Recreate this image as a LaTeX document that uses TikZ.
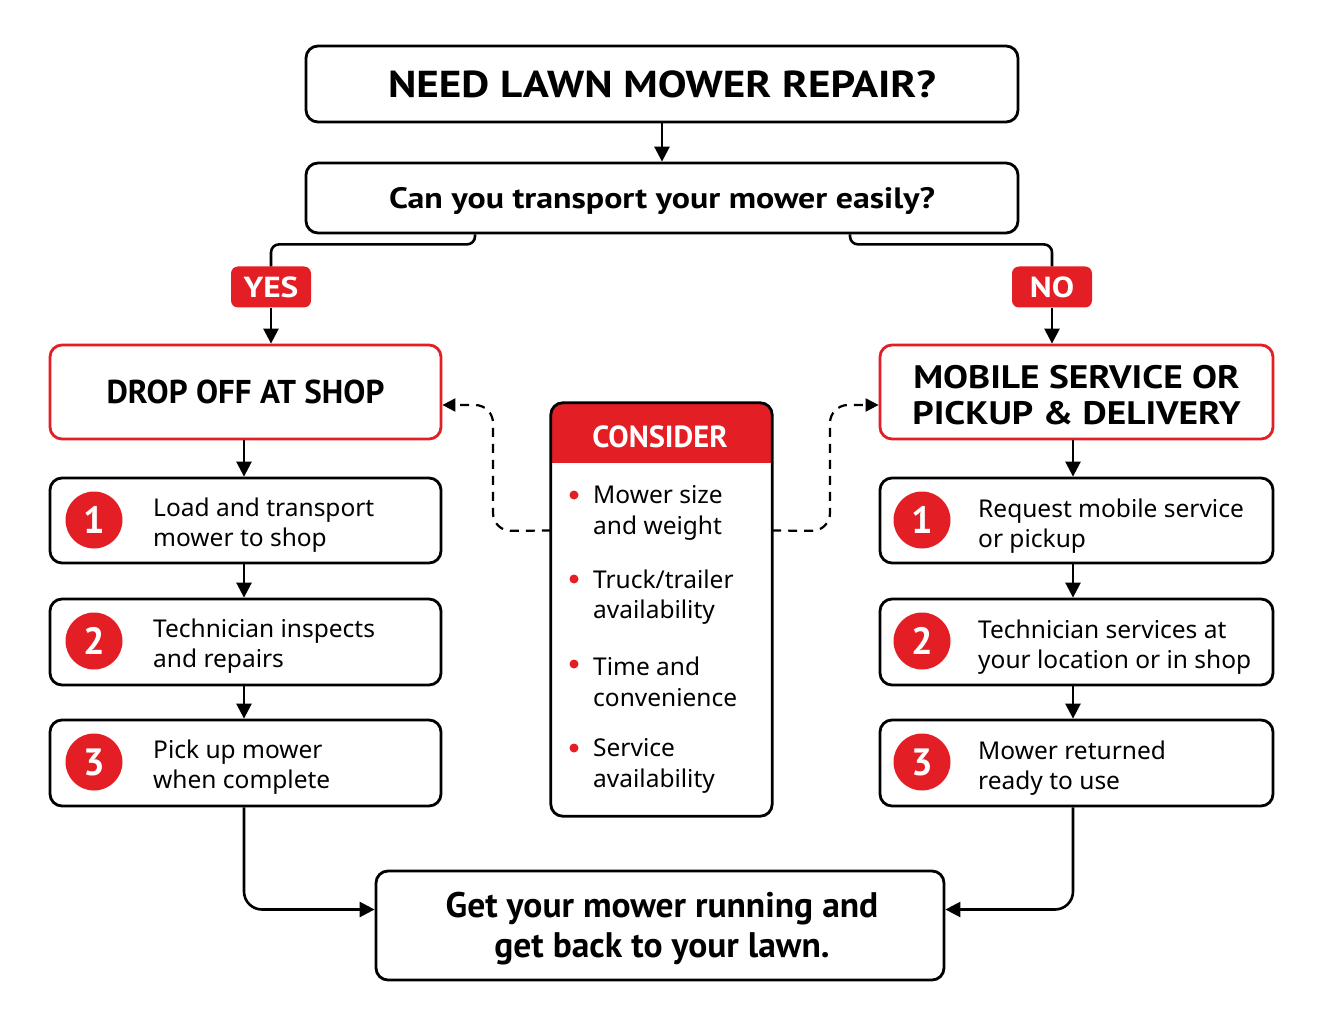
\documentclass[tikz,border=0pt]{standalone}
\usepackage{fontspec}
\setmainfont{Noto Sans}
\newfontfamily\headfont{PT Sans}
\newfontfamily\widefont{PT Sans}[FakeStretch=1.15]
\usetikzlibrary{positioning,arrows.meta}
\definecolor{mowerred}{RGB}{227,30,36}

\tikzset{
  box/.style={draw=black, line width=2.8pt, rounded corners=12pt, fill=white, inner sep=0pt},
  redbox/.style={draw=mowerred, line width=2.8pt, rounded corners=12pt, fill=white, inner sep=0pt},
  headtext/.style={font=\headfont\bfseries\fontsize{33}{35}\selectfont, align=center},
  badge/.style={fill=mowerred, rounded corners=7pt, text=white, inner sep=0pt,
    font=\widefont\bfseries\fontsize{29}{30}\selectfont, minimum width=80pt, minimum height=41pt},
  stepnum/.style={circle, fill=mowerred, text=white, minimum size=57pt, inner sep=0pt,
    font=\headfont\bfseries\fontsize{38}{38}\selectfont},
  steptext/.style={anchor=west, align=left, inner sep=0pt, font=\fontsize{24.5}{30.5}\selectfont},
  dot/.style={circle, fill=mowerred, minimum size=9pt, inner sep=0pt},
  conn/.style={line width=2.6pt, -{Triangle[length=15pt,width=15pt]}},
  link/.style={line width=2.6pt},
  dashconn/.style={line width=2.2pt, dash pattern=on 9pt off 7pt, rounded corners=18pt,
    -{Triangle[length=13pt,width=13pt]}}
}

\begin{document}
\begin{tikzpicture}[x=1pt, y=-1pt]
    \useasboundingbox[fill=white] (0,0) rectangle (1323,1024);

    % Question boxes
    \node[box, minimum width=712pt, minimum height=76pt, headtext, font=\widefont\bfseries\fontsize{37.5}{40}\selectfont]
        (title) at (662,84) {NEED LAWN MOWER REPAIR?};
    \node[box, minimum width=712pt, minimum height=70pt] (quest) at (662,198) {};
    \node[headtext, font=\widefont\bfseries\fontsize{29.5}{32}\selectfont] (questtext) at (662,201)
        {Can you transport your mower easily?};

    % Answer badges
    \node[badge] (yes) at (271,287) {YES};
    \node[badge] (no)  at (1052,287) {NO};

    % Two ways
    \node[redbox, minimum width=391pt, minimum height=94pt, headtext] (drop) at (245.5,392) {DROP OFF AT SHOP};
    \node[redbox, minimum width=393pt, minimum height=94pt] (mobile) at (1076.5,392) {};
    \node[headtext, font=\widefont\bfseries\fontsize{32.5}{36}\selectfont] (mobiletext) at (1076.5,395)
        {MOBILE SERVICE OR\\PICKUP \& DELIVERY};

    % Left steps
    \node[box, minimum width=391pt, minimum height=85pt] (l1) at (245.5,520.5) {};
    \node[box, minimum width=391pt, minimum height=86pt] (l2) at (245.5,642) {};
    \node[box, minimum width=391pt, minimum height=86pt] (l3) at (245.5,763) {};
    \node[stepnum] (l1n) at (94,520) {1};
    \node[stepnum] (l2n) at (94,641) {2};
    \node[stepnum] (l3n) at (94,762) {3};
    \node[steptext] (l1t) at (153,525) {Load and transport\\mower to shop};
    \node[steptext] (l2t) at (153,646) {Technician inspects\\and repairs};
    \node[steptext] (l3t) at (153,767) {Pick up mower\\when complete};

    % Right steps
    \node[box, minimum width=393pt, minimum height=85pt] (r1) at (1076.5,520.5) {};
    \node[box, minimum width=393pt, minimum height=86pt] (r2) at (1076.5,642) {};
    \node[box, minimum width=393pt, minimum height=86pt] (r3) at (1076.5,763) {};
    \node[stepnum] (r1n) at (922,520) {1};
    \node[stepnum] (r2n) at (922,641) {2};
    \node[stepnum] (r3n) at (922,762) {3};
    \node[steptext] (r1t) at (978,526) {Request mobile service\\or pickup};
    \node[steptext] (r2t) at (978,647) {Technician services at\\your location or in shop};
    \node[steptext] (r3t) at (978,768) {Mower returned\\ready to use};

    % Consider panel
    \node[fill=white, rounded corners=12pt, minimum width=221pt, minimum height=413pt, inner sep=0pt] (cons) at (661.5,609.5) {};
    \fill[mowerred] ([yshift=-60pt]cons.north west) [rounded corners=12pt] -- (cons.north west)
        -- (cons.north east) [sharp corners] -- ([yshift=-60pt]cons.north east) -- cycle;
    \draw[line width=2.8pt, rounded corners=12pt] (cons.north west) rectangle (cons.south east);
    \node[headtext, text=white, font=\headfont\bfseries\fontsize{30.5}{31}\selectfont] (conshead) at (660,437) {CONSIDER};
    \foreach \y/\txt [count=\i] in {513/{Mower size\\and weight}, 597/{Truck/trailer\\availability},
                                   682/{Time and\\convenience}, 766/{Service\\availability}} {
        \node[steptext] (item\i) at (593,\y) {\txt};
        \node[dot] (dot\i) at (574,\y-18) {};
    }

    % Result
    \node[box, minimum width=568pt, minimum height=109pt] (final) at (660,925.5) {};
    \node[headtext, font=\headfont\bfseries\fontsize{35.5}{40}\selectfont] (finaltext) at (662,928.5)
        {Get your mower running and\\get back to your lawn.};

    % Connectors
    \draw[conn] (title) -- (quest);
    \draw[link, rounded corners=8pt] ([xshift=-187pt]quest.south) -- ++(0,10) -| (yes.north);
    \draw[link, rounded corners=8pt] ([xshift=188pt]quest.south) -- ++(0,10) -| (no.north);
    \draw[conn] (yes.south) -- (yes.south |- drop.north);
    \draw[conn] (no.south) -- (no.south |- mobile.north);
    \draw[conn] ([xshift=-1.5pt]drop.south) -- ([xshift=-1.5pt]l1.north);
    \draw[conn] ([xshift=-1.5pt]l1.south) -- ([xshift=-1.5pt]l2.north);
    \draw[conn] ([xshift=-1.5pt]l2.south) -- ([xshift=-1.5pt]l3.north);
    \draw[conn] ([xshift=-3.5pt]mobile.south) -- ([xshift=-3.5pt]r1.north);
    \draw[conn] ([xshift=-3.5pt]r1.south) -- ([xshift=-3.5pt]r2.north);
    \draw[conn] ([xshift=-3.5pt]r2.south) -- ([xshift=-3.5pt]r3.north);
    \draw[conn, rounded corners=18pt] ([xshift=-1.5pt]l3.south) |- ([yshift=16pt]final.west);
    \draw[conn, rounded corners=18pt] ([xshift=-3.5pt]r3.south) |- ([yshift=16pt]final.east);

    % Dashed hints
    \draw[dashconn] ([yshift=79pt]cons.west) -- (493,531) -- (493,405) -- ([yshift=-13pt]drop.east);
    \draw[dashconn] ([yshift=79pt]cons.east) -- (830,531) -- (830,405) -- ([yshift=-13pt]mobile.west);
\end{tikzpicture}
\end{document}
